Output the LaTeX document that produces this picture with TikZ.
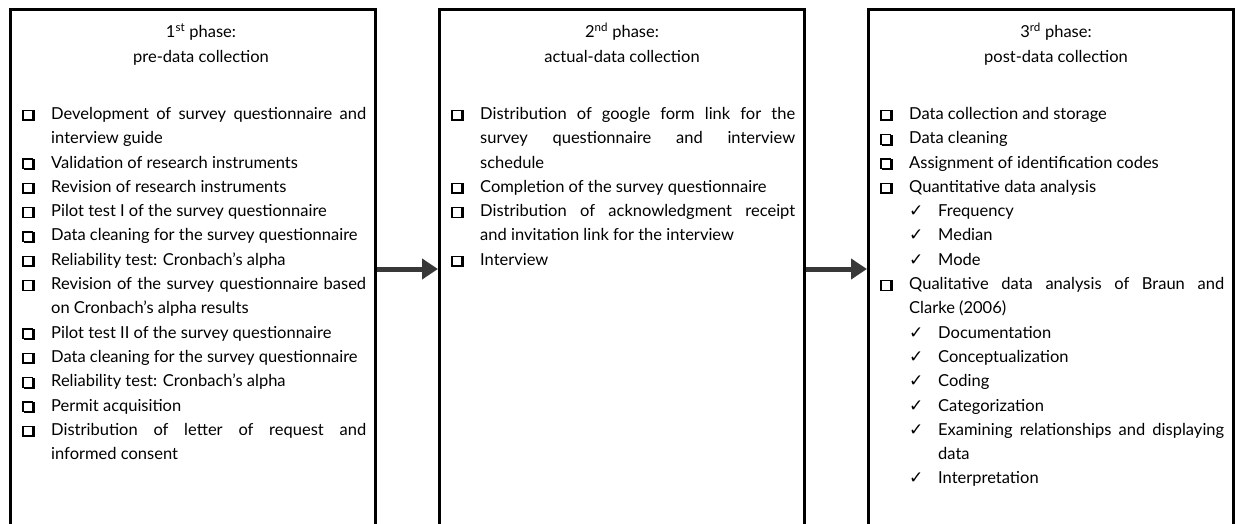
\documentclass[tikz,border=0pt]{standalone}
\usepackage{fontspec}
\setmainfont{Lato}
\newfontfamily\symfont{DejaVu Sans}
\usetikzlibrary{arrows.meta,positioning}
\newlength\hangw
\setlength\hangw{29pt}
\newcommand\sqbox{{\setlength\fboxrule{1.3pt}\setlength\fboxsep{0pt}%
  \rlap{\kern1.8pt\raisebox{-1.8pt}{\rule{11pt}{11pt}}}%
  \fcolorbox{black}{white}{\rule{0pt}{8.4pt}\rule{8.4pt}{0pt}}}}
\newcommand\boxitem[1]{\par\leftskip=0pt\noindent\hangindent=\hangw\hangafter=1\makebox[\hangw][l]{\sqbox}\strut#1}
\newcommand\tickitem[1]{\par\leftskip=\hangw\noindent\hangindent=\hangw\hangafter=1\makebox[\hangw][l]{\fontsize{17}{17}\symfont\char"2713}\strut#1}

\begin{document}
\begin{tikzpicture}[x=1pt,y=1pt,
    phasebox/.style={draw,line width=3pt,minimum width=365pt,minimum height=560pt,inner sep=0pt,anchor=north west},
    phasetitle/.style={align=center,inner sep=0pt,font=\fontsize{16.5}{25}\selectfont},
    phaselist/.style={text width=344pt,align=justify,inner sep=0pt,font=\fontsize{16.5}{24.3}\selectfont},
    flowarrow/.style={draw=black!78,line width=5pt,-{Triangle[length=16pt,width=20pt]}}]
			%%%%% START %%%%%
			\def\ytop{-8}
			\def\dtitle{12pt}
			\def\dlist{87pt}
			\def\dpad{13pt}
			\def\yarrow{-261pt}

			\clip (0,0) rectangle (1235,-524);
			\fill[white] (0,0) rectangle (1235,-524);

			% the three boxes
			\node[phasebox] (p1) at (9,\ytop) {};
			\node[phasebox] (p2) at (438,\ytop) {};
			\node[phasebox] (p3) at (867,\ytop) {};

			% titles
			\node[phasetitle, below=\dtitle of p1.north, xshift=8pt] (t1) {\strut 1\textsuperscript{st} phase:\\ pre-data collection};
			\node[phasetitle, below=\dtitle of p2.north] (t2) {\strut 2\textsuperscript{nd} phase:\\ actual-data collection};
			\node[phasetitle, below=\dtitle of p3.north, xshift=5pt] (t3) {\strut 3\textsuperscript{rd} phase:\\ post-data collection};

			% 1st phase
			\node[phaselist, below right=\dlist and \dpad of p1.north west] (l1) {%
				\boxitem{Development of survey questionnaire and\linebreak interview guide}
				\boxitem{Validation of research instruments}
				\boxitem{Revision of research instruments}
				\boxitem{Pilot test I of the survey questionnaire}
				\boxitem{Data cleaning for the survey questionnaire}
				\boxitem{Reliability test: Cronbach's alpha}
				\boxitem{Revision of the survey questionnaire based\linebreak on Cronbach's alpha results}
				\boxitem{Pilot test II of the survey questionnaire}
				\boxitem{Data cleaning for the survey questionnaire}
				\boxitem{Reliability test: Cronbach's alpha}
				\boxitem{Permit acquisition}
				\boxitem{Distribution of letter of request and\linebreak informed consent}\par};

			% 2nd phase
			\node[phaselist, below right=\dlist and \dpad of p2.north west] (l2) {%
				\boxitem{Distribution of google form link for the\linebreak survey questionnaire and interview\linebreak schedule}
				\boxitem{Completion of the survey questionnaire}
				\boxitem{Distribution of acknowledgment receipt\linebreak and invitation link for the interview}
				\boxitem{Interview}\par};

			% 3rd phase
			\node[phaselist, below right=\dlist and \dpad of p3.north west] (l3) {%
				\boxitem{Data collection and storage}
				\boxitem{Data cleaning}
				\boxitem{Assignment of identification codes}
				\boxitem{Quantitative data analysis}
				\tickitem{Frequency}
				\tickitem{Median}
				\tickitem{Mode}
				\boxitem{Qualitative data analysis of Braun and\linebreak Clarke (2006)}
				\tickitem{Documentation}
				\tickitem{Conceptualization}
				\tickitem{Coding}
				\tickitem{Categorization}
				\tickitem{Examining relationships and displaying\linebreak data}
				\tickitem{Interpretation}\par};

			% arrows
			\draw[flowarrow] ([yshift=\yarrow]p1.north east) -- ([yshift=\yarrow]p2.north west);
			\draw[flowarrow] ([yshift=\yarrow]p2.north east) -- ([yshift=\yarrow]p3.north west);
			%%%%% END %%%%%
\end{tikzpicture}
\end{document}
